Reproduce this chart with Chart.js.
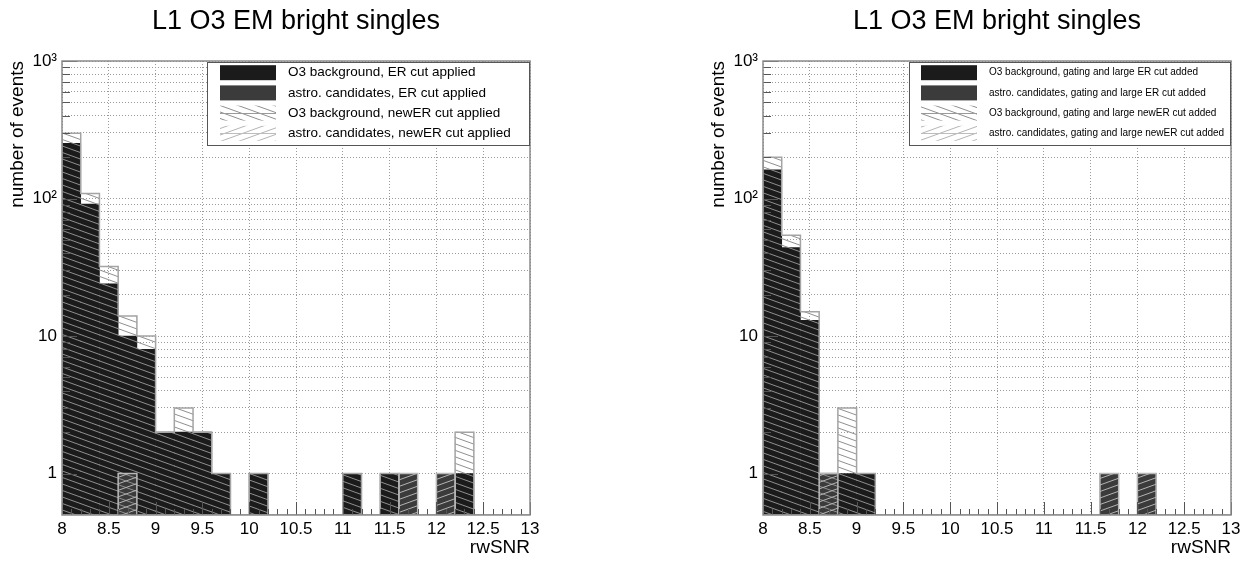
<!DOCTYPE html>
<html>
<head>
<meta charset="utf-8">
<title>L1 O3 EM bright singles</title>
<script src="https://cdn.jsdelivr.net/npm/chart.js@4.4.1/dist/chart.umd.min.js"></script>
<style>
  html, body { margin: 0; padding: 0; background: #fff; }
  #wrap { position: relative; width: 1250px; height: 561px; }
  .panel { position: absolute; top: 0; width: 625px; height: 561px; }
</style>
</head>
<body>
<div id="wrap">
  <div class="panel" style="left:0"><canvas id="leftChart" width="625" height="561"></canvas></div>
  <div class="panel" style="left:625px"><canvas id="rightChart" width="625" height="561"></canvas></div>
</div>
<script>
// -------------------------
// Data
// -------------------------
const binEdges = [8.0, 8.2, 8.4, 8.6, 8.8, 9.0, 9.2, 9.4, 9.6, 9.8, 10.0, 10.2, 10.4,
                  10.6, 10.8, 11.0, 11.2, 11.4, 11.6, 11.8, 12.0, 12.2, 12.4, 12.6, 12.8, 13.0];

const xTickValues = [8, 8.5, 9, 9.5, 10, 10.5, 11, 11.5, 12, 12.5, 13];
const yGridValues = [1, 2, 3, 4, 5, 6, 7, 8, 9, 10, 20, 30, 40, 50, 60, 70, 80, 90,
                     100, 200, 300, 400, 500, 600, 700, 800, 900, 1000];
const yTickLabels = { 1: '1', 10: '10', 100: '10²', 1000: '10³' };

// left panel: ER / newER cuts applied
const leftBkgER      = [252, 91, 24, 10, 8, 2, 2, 2, 1, null, 1, null, null, null, null, 1, null, 1, null, null, null, 1, null, null, null];
const leftAstroER    = [null, null, null, 1, null, null, null, null, null, null, null, null, null, null, null, null, null, null, 1, null, 1, null, null, null, null];
const leftBkgNewER   = [298, 109, 32, 14, 10, 2, 3, 2, 1, null, 1, null, null, null, null, 1, null, 1, null, null, null, 2, null, null, null];
const leftAstroNewER = [null, null, null, 1, null, null, null, null, null, null, null, null, null, null, null, null, null, null, 1, null, 1, null, null, null, null];

// right panel: gating and large cuts added
const rightBkgER      = [162, 44, 13, null, 1, 1, null, null, null, null, null, null, null, null, null, null, null, null, null, null, null, null, null, null, null];
const rightAstroER    = [null, null, null, 1, null, null, null, null, null, null, null, null, null, null, null, null, null, null, 1, null, 1, null, null, null, null];
const rightBkgNewER   = [200, 54, 15, 1, 3, 1, null, null, null, null, null, null, null, null, null, null, null, null, null, null, null, null, null, null, null];
const rightAstroNewER = [null, null, null, 1, null, null, null, null, null, null, null, null, null, null, null, null, null, null, 1, null, 1, null, null, null, null];

const leftLabels = [
  'O3 background, ER cut applied',
  'astro. candidates, ER cut applied',
  'O3 background, newER cut applied',
  'astro. candidates, newER cut applied'
];
const rightLabels = [
  'O3 background, gating and large ER cut added',
  'astro. candidates, gating and large ER cut added',
  'O3 background, gating and large newER cut added',
  'astro. candidates, gating and large newER cut added'
];

// -------------------------
// Helpers
// -------------------------
const FONT = '"Liberation Sans", Arial, Helvetica, sans-serif';
const Y_MIN = 0.5, Y_MAX = 1000;
Chart.defaults.font.family = FONT;
Chart.defaults.color = '#000';

const binCenters = binEdges.slice(0, -1).map((e, i) => (e + binEdges[i + 1]) / 2);

function makeHatch(color, descending) {
  const c = document.createElement('canvas');
  c.width = 36; c.height = 13;
  const g = c.getContext('2d');
  g.strokeStyle = color;
  g.lineWidth = 1;
  for (let k = -2; k <= 2; k++) {
    const off = k * 6.5;
    g.beginPath();
    if (descending) { g.moveTo(0, off); g.lineTo(36, off + 13); }
    else { g.moveTo(0, off + 13); g.lineTo(36, off); }
    g.stroke();
  }
  return g.createPattern(c, 'repeat');
}

const hatchBkg = makeHatch('#8f8f8f', true);
const hatchAstro = makeHatch('#b4b4b4', false);

function barData(counts) {
  return binCenters.map((x, i) => ({ x: x, y: counts[i] }));
}

// histogram outline, ROOT style (steps down to the axis where a bin is empty)
function contourData(counts) {
  const n = counts.length;
  const pts = [{ x: binEdges[0], y: Y_MIN }];
  counts.forEach((v, i) => pts.push({ x: binEdges[i], y: v == null ? Y_MIN : v }));
  pts.push({ x: binEdges[n], y: counts[n - 1] == null ? Y_MIN : counts[n - 1] });
  pts.push({ x: binEdges[n], y: Y_MIN });
  return pts;
}

// ticks inside the frame + frame
const rootAxes = {
  id: 'rootAxes',
  afterDatasetsDraw(chart) {
    const { ctx, chartArea: a, scales: { x, y } } = chart;
    ctx.save();
    ctx.strokeStyle = '#555';
    ctx.lineWidth = 1;
    ctx.beginPath();
    yGridValues.forEach(v => {
      const py = Math.round(y.getPixelForValue(v)) + 0.5;
      const len = yTickLabels[v] ? 15 : 8;
      ctx.moveTo(a.left, py);
      ctx.lineTo(a.left + len, py);
    });
    for (let k = 0; k <= 50; k++) {
      const v = 8 + k * 0.1;
      const px = Math.round(x.getPixelForValue(v)) + 0.5;
      const len = k % 5 === 0 ? 13 : 6;
      ctx.moveTo(px, a.bottom);
      ctx.lineTo(px, a.bottom - len);
    }
    ctx.stroke();
    ctx.strokeStyle = '#8a8a8a';
    ctx.lineWidth = 1.5;
    ctx.strokeRect(a.left, a.top, a.right - a.left, a.bottom - a.top);
    ctx.restore();
  }
};

// legend box in the top-right corner of the frame
const rootLegend = {
  id: 'rootLegend',
  afterDraw(chart, args, o) {
    const { ctx, chartArea: a } = chart;
    const items = chart.data.datasets.filter(d => d.type === 'bar');
    const left = a.right - o.boxWidth, top = a.top + 1, h = 84;
    ctx.save();
    ctx.fillStyle = '#fff';
    ctx.fillRect(left, top, o.boxWidth, h);
    ctx.strokeStyle = '#555';
    ctx.lineWidth = 1;
    ctx.strokeRect(left + 0.5, top + 0.5, o.boxWidth - 1, h - 1);
    items.forEach((d, i) => {
      const cy = top + 10.7 + i * 20.2;
      const sx = left + o.swatchX, sw = 56, sh = 15;
      ctx.fillStyle = d.backgroundColor;
      ctx.fillRect(sx, cy - sh / 2, sw, sh);
      if (d.legendLine) {
        ctx.strokeStyle = d.legendLine;
        ctx.beginPath();
        ctx.moveTo(sx, Math.round(cy) + 0.5);
        ctx.lineTo(sx + sw, Math.round(cy) + 0.5);
        ctx.stroke();
      }
      ctx.fillStyle = '#000';
      ctx.font = o.fontSize + 'px ' + FONT;
      ctx.textBaseline = 'middle';
      ctx.textAlign = 'left';
      ctx.fillText(d.label, left + o.textX, cy);
    });
    ctx.restore();
  }
};

function buildPanel(canvasId, p) {
  const datasets = [
    { type: 'bar', label: p.labels[0], data: barData(p.bkgER), backgroundColor: '#1b1b1b', order: 6 },
    { type: 'bar', label: p.labels[1], data: barData(p.astroER), backgroundColor: '#3b3b3b', order: 5 },
    { type: 'bar', label: p.labels[2], data: barData(p.bkgNewER), backgroundColor: hatchBkg, legendLine: '#9a9a9a', order: 4 },
    { type: 'bar', label: p.labels[3], data: barData(p.astroNewER), backgroundColor: hatchAstro, legendLine: '#bdbdbd', order: 3 },
    { type: 'line', label: 'bkg outline', data: contourData(p.bkgNewER), borderColor: '#a4a4a4', order: 2 },
    { type: 'line', label: 'astro outline', data: contourData(p.astroNewER), borderColor: '#b8b8b8', order: 1 }
  ];
  datasets.forEach(d => {
    if (d.type === 'bar') {
      Object.assign(d, { borderWidth: 0, grouped: false, barPercentage: 1, categoryPercentage: 1 });
    } else {
      Object.assign(d, { borderWidth: 1.5, pointRadius: 0, fill: false, stepped: 'before' });
    }
  });

  return new Chart(document.getElementById(canvasId), {
    type: 'bar',
    data: { datasets: datasets },
    options: {
      responsive: false,
      animation: false,
      events: [],
      layout: { padding: { left: p.padLeft, right: p.padRight, top: 0, bottom: 0 } },
      scales: {
        x: {
          type: 'linear', min: 8, max: 13, offset: false,
          afterBuildTicks: s => { s.ticks = xTickValues.map(v => ({ value: v })); },
          ticks: { callback: v => String(v), font: { size: 17 }, color: '#000', padding: 4, autoSkip: false, maxRotation: 0 },
          grid: { offset: false, color: '#9a9a9a', lineWidth: 1, drawTicks: false },
          border: { display: false, dash: [1, 2] },
          title: { display: true, text: 'rwSNR', align: 'end', font: { size: 19 }, color: '#000', padding: { top: 0, bottom: 1.6 } },
          afterFit: s => { s.height = 46; }
        },
        y: {
          type: 'logarithmic', min: Y_MIN, max: Y_MAX,
          afterBuildTicks: s => { s.ticks = yGridValues.map(v => ({ value: v })); },
          ticks: { callback: v => yTickLabels[v] || '', font: { size: 17 }, color: '#000', padding: 5, autoSkip: false },
          grid: { color: '#9a9a9a', lineWidth: 1, drawTicks: false },
          border: { display: false, dash: [1, 2] },
          title: { display: true, text: 'number of events', align: 'end', font: { size: 19 }, color: '#000', padding: { top: 6.6, bottom: 0 } },
          afterFit: s => { s.width = 62; }
        }
      },
      plugins: {
        legend: { display: false },
        tooltip: { enabled: false },
        title: {
          display: true, text: 'L1 O3 EM bright singles', fullSize: false, color: '#000',
          font: { size: 27, weight: 'normal' }, padding: { top: 5.8, bottom: 22.8 }
        },
        rootLegend: p.legend
      }
    },
    plugins: [rootAxes, rootLegend]
  });
}

buildPanel('leftChart', {
  bkgER: leftBkgER, astroER: leftAstroER, bkgNewER: leftBkgNewER, astroNewER: leftAstroNewER,
  labels: leftLabels, padLeft: 0, padRight: 95,
  legend: { boxWidth: 323, swatchX: 13, textX: 81, fontSize: 13.5 }
});

buildPanel('rightChart', {
  bkgER: rightBkgER, astroER: rightAstroER, bkgNewER: rightBkgNewER, astroNewER: rightAstroNewER,
  labels: rightLabels, padLeft: 76, padRight: 19,
  legend: { boxWidth: 322, swatchX: 12, textX: 80, fontSize: 10 }
});
</script>
</body>
</html>
